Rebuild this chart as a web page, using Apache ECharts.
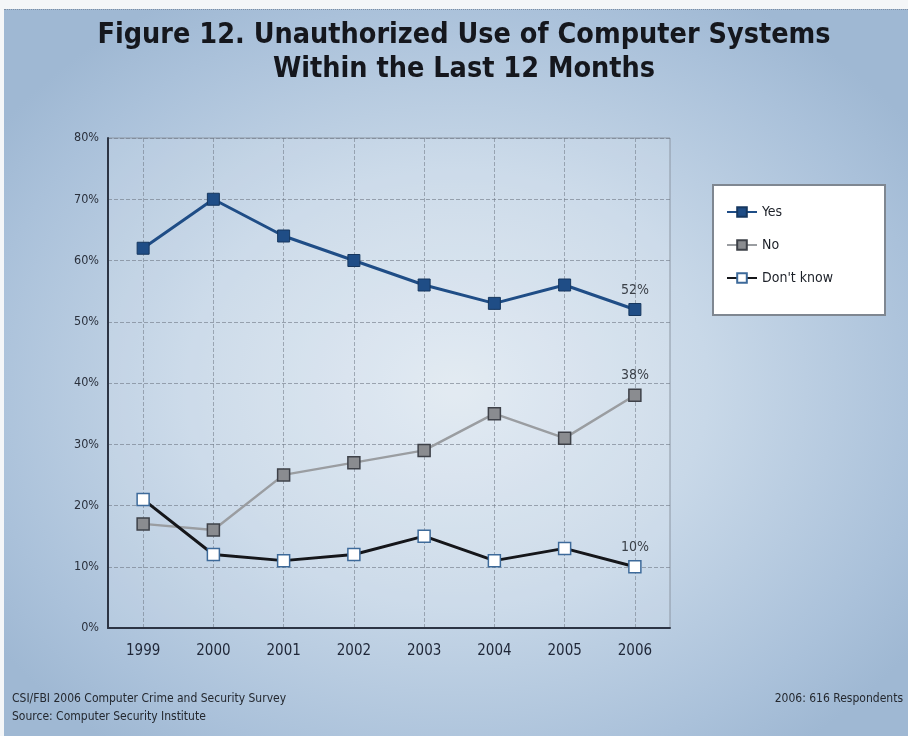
<!DOCTYPE html>
<html>
<head>
<meta charset="utf-8">
<script src="https://cdn.jsdelivr.net/npm/echarts@6/dist/echarts.min.js"></script>
<style>
html,body{margin:0;padding:0;width:908px;height:736px;background:#f4f6f8;overflow:hidden;}
#frame{position:absolute;left:4px;top:9px;width:904px;height:727px;
 background:radial-gradient(ellipse 62% 62% at 50% 52%, #dfe8f1 0%, #c8d8e8 45%, #aac1da 85%, #9fb8d3 100%);
 border-top:1px dotted #7d8ea3;}
#chart{position:absolute;left:0;top:0;width:908px;height:736px;}
</style>
</head>
<body>
<div id="frame"></div>
<div id="chart"></div>
<script>
const years = ['1999','2000','2001','2002','2003','2004','2005','2006'];
const yesValues = [62, 70, 64, 60, 56, 53, 56, 52];
const noValues = [17, 16, 25, 27, 29, 35, 31, 38];
const dontKnowValues = [21, 12, 11, 12, 15, 11, 13, 10];
const seriesNames = ['Yes', 'No', "Don't know"];
const titleLines = ['Figure 12. Unauthorized Use of Computer Systems', 'Within the Last 12 Months'];
const footLeft = ['CSI/FBI 2006 Computer Crime and Security Survey', 'Source: Computer Security Institute'];
const footRight = '2006: 616 Respondents';

const NARROW = '"Liberation Sans Narrow", "DejaVu Sans Condensed", "Roboto Condensed", sans-serif';

function withLastLabel(arr) {
  return arr.map((v, i) => i === arr.length - 1 ? { value: v, label: { show: true } } : v);
}
const lastLabel = {
  show: false, position: 'top', distance: 6, formatter: '{c}%',
  fontFamily: NARROW, fontSize: 14, color: '#3b4048'
};

const chart = echarts.init(document.getElementById('chart'), null, { renderer: 'canvas' });
chart.setOption({
  backgroundColor: 'transparent',
  animation: false,
  title: {
    text: titleLines.join('\n'),
    left: 459, top: 14, textAlign: 'center',
    textStyle: { fontFamily: NARROW, fontWeight: 'bold', fontSize: 28.5, lineHeight: 34, color: '#15171d' }
  },
  grid: { left: 108, right: 238, top: 138, bottom: 108, show: true, borderColor: '#8c96a3', borderWidth: 1, backgroundColor: 'rgba(255,255,255,0.12)' },
  legend: {
    data: seriesNames,
    orient: 'vertical', left: 721, top: 200,
    itemWidth: 30, itemHeight: 12, itemGap: 19,
    textStyle: { fontFamily: NARROW, fontSize: 14, color: '#1c2028' }
  },
  xAxis: {
    type: 'category', data: years, boundaryGap: true,
    axisLine: { lineStyle: { color: '#2c3444', width: 2 } },
    axisTick: { show: false, alignWithLabel: true },
    axisLabel: { margin: 16, fontFamily: NARROW, fontSize: 15, color: '#1f2637' },
    splitLine: { show: true, interval: 0, alignWithLabel: true, lineStyle: { color: 'rgba(110,118,132,0.55)', type: 'dashed', width: 1 } }
  },
  yAxis: {
    type: 'value', min: 0, max: 80, interval: 10,
    axisLine: { show: true, lineStyle: { color: '#2c3444', width: 2 } },
    axisTick: { show: false },
    axisLabel: { margin: 9, formatter: '{value}%', fontFamily: NARROW, fontSize: 12.5, color: '#2a303c' },
    splitLine: { show: true, lineStyle: { color: 'rgba(110,118,132,0.6)', type: 'dashed', width: 1 } }
  },
  graphic: [
    { type: 'rect', left: 712, top: 184, shape: { width: 172, height: 130 }, z: 0,
      style: { fill: '#ffffff', stroke: '#7f8791', lineWidth: 2 } },
    { type: 'text', left: 12, top: 690, style: { text: footLeft.join('\n'), font: '12px ' + NARROW, lineHeight: 18, fill: '#24282f' } },
    { type: 'text', right: 5, top: 693, style: { text: footRight, font: '12px ' + NARROW, fill: '#24282f' } }
  ],
  series: [
    { name: seriesNames[0], type: 'line', data: withLastLabel(yesValues), symbol: 'rect', symbolSize: 12, z: 5,
      lineStyle: { color: '#1f4d86', width: 3 }, itemStyle: { color: '#1f4d86', borderColor: '#16375f', borderWidth: 1 },
      label: lastLabel },
    { name: seriesNames[1], type: 'line', data: withLastLabel(noValues), symbol: 'rect', symbolSize: 12, z: 4,
      lineStyle: { color: '#9a9da1', width: 2.5 }, itemStyle: { color: '#8a8c90', borderColor: '#3e4148', borderWidth: 1.5 },
      label: lastLabel },
    { name: seriesNames[2], type: 'line', data: withLastLabel(dontKnowValues), symbol: 'rect', symbolSize: 12, z: 6,
      lineStyle: { color: '#15161a', width: 3 }, itemStyle: { color: '#ffffff', borderColor: '#3d6a9a', borderWidth: 1.5 },
      label: lastLabel }
  ]
});
</script>
</body>
</html>
